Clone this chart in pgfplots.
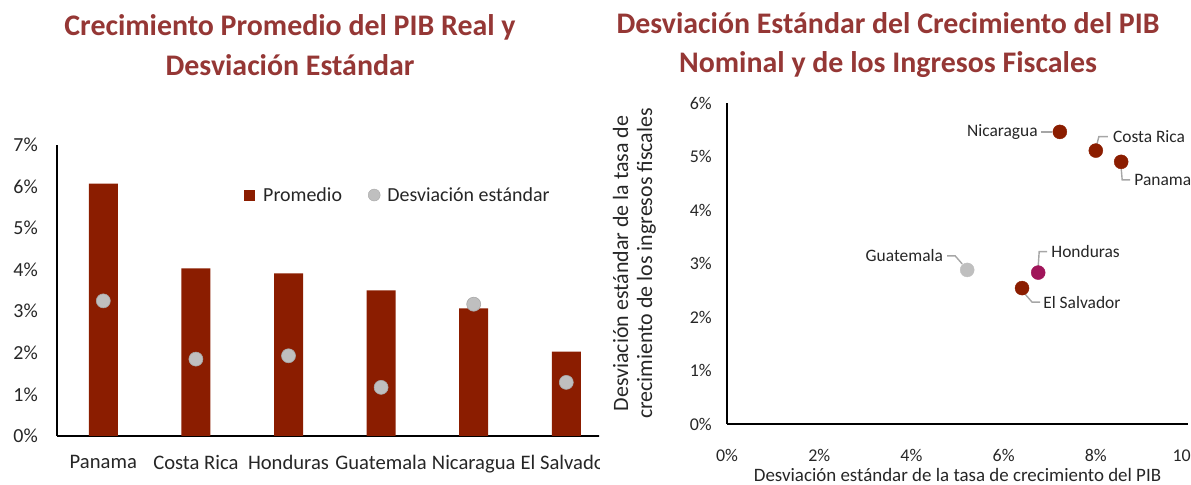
\documentclass[border=0pt]{standalone}
\usepackage{pgfplots}
\pgfplotsset{compat=1.18}
\usepackage{fontspec}
\setmainfont{Carlito}
\definecolor{barred}{HTML}{8B1D00}
\definecolor{titlered}{HTML}{953735}
\definecolor{dotgrey}{HTML}{BFBFBF}
\definecolor{hond}{HTML}{A0155A}
\definecolor{leader}{HTML}{A6A6A6}
\definecolor{txt}{HTML}{262626}
\begin{document}
\begin{tikzpicture}[x=1bp,y=1bp]
\useasboundingbox (0,0) rectangle (1191,485);
\clip (0,0) rectangle (1191,485);
% titles
\node[font=\fontsize{30}{40}\selectfont\bfseries, text=titlered, align=center] at (290,440) {Crecimiento Promedio del PIB Real y\\Desviación Estándar};
\node[font=\fontsize{30}{40}\selectfont\bfseries, text=titlered, align=center] at (888,440) {Desviación Estándar del Crecimiento del PIB\\Nominal y de los Ingresos Fiscales};
% left chart
\begin{scope}
\clip (0,0) rectangle (599,485);
\begin{axis}[
  at={(57bp,49bp)}, anchor=south west,
  scale only axis, width=555.6bp, height=291bp,
  xmin=-0.5, xmax=5.5, ymin=0, ymax=7,
  axis x line*=bottom, axis y line*=left,
  axis line style={-, black, line width=1.3bp},
  major tick length=0pt,
  xtick={0,1,2,3,4,5},
  xticklabels={Panama, Costa Rica, Honduras, Guatemala, Nicaragua, El Salvador},
  ytick={0,1,...,7},
  yticklabel={\pgfmathprintnumber{\tick}\%},
  /pgf/number format/assume math mode=true,
  ticklabel style={font=\fontsize{20}{24}\selectfont, text=txt, inner sep=0pt},
  yticklabel style={anchor=east, xshift=-19bp},
  xticklabel style={anchor=north, yshift=-19bp, font=\fontsize{20.7}{25}\selectfont},
  clip=false,
  legend columns=2,
  legend style={draw=none, fill=none, inner sep=0pt, at={(0.3366,0.828)}, anchor=west,
    font=\fontsize{20}{24}\selectfont, text=txt, /tikz/every even column/.append style={column sep=24bp}},
]
\addplot[ybar, bar width=29bp, fill=barred, draw=none,
  legend image code/.code={\fill[barred] (0bp,-5.5bp) rectangle (11bp,5.5bp); \path (17bp,0bp);}]
  coordinates {(0,6.07) (1,4.03) (2,3.91) (3,3.50) (4,3.07) (5,2.03)};
\addlegendentry{Promedio}
\addplot[only marks, mark=*, mark size=7bp, mark options={fill=dotgrey, draw=dotgrey!88!black, line width=0.6bp},
  legend image code/.code={\fill[dotgrey, draw=dotgrey!88!black] (6bp,0bp) circle (6bp); \path (17bp,0bp);}]
  coordinates {(0,3.25) (1,1.85) (2,1.93) (3,1.17) (4,3.17) (5,1.29)};
\addlegendentry{Desviación estándar}
\end{axis}
\end{scope}
% right chart
\begin{axis}[
  at={(727bp,61bp)}, anchor=south west,
  scale only axis, width=461bp, height=321bp,
  xmin=0, xmax=10, ymin=0, ymax=6,
  axis x line*=bottom, axis y line*=left,
  axis line style={-, black, line width=1.3bp},
  major tick length=0pt,
  xtick={0,2,...,10}, ytick={0,1,...,6},
  xticklabel={\pgfmathprintnumber{\tick}\%},
  yticklabel={\pgfmathprintnumber{\tick}\%},
  /pgf/number format/assume math mode=true,
  ticklabel style={font=\fontsize{18}{22}\selectfont, text=txt, inner sep=0pt},
  yticklabel style={anchor=east, xshift=-15bp},
  xticklabel style={anchor=north, yshift=-25bp},
  xlabel={Desviación estándar de la tasa de crecimiento del PIB},
  ylabel={Desviación estándar de la tasa de\\crecimiento de los ingresos fiscales},
  label style={text=txt, inner sep=0pt},
  xlabel style={font=\fontsize{19}{24}\selectfont, at={(axis description cs:0.5,0)}, anchor=north, yshift=-44bp},
  ylabel style={font=\fontsize{22}{24}\selectfont, at={(axis description cs:-0.154,0.5)}, anchor=south, align=center},
  clip=false,
]
\draw[leader, line width=1.4bp] (axis cs:7.22,5.46) ++(-19bp,0bp) -- ++(11bp,0bp);
\draw[leader, line width=1.4bp] (axis cs:8.0,5.11) ++(1bp,6bp) -- ++(2bp,8bp) -- ++(9bp,0bp);
\draw[leader, line width=1.4bp] (axis cs:8.55,4.90) ++(0bp,-6bp) -- ++(1bp,-12bp) -- ++(8bp,0bp);
\draw[leader, line width=1.4bp] (axis cs:5.21,2.88) ++(-5bp,6bp) -- ++(-7bp,8bp) -- ++(-8bp,0bp);
\draw[leader, line width=1.4bp] (axis cs:6.75,2.83) ++(0bp,6bp) -- ++(1bp,15bp) -- ++(8bp,0bp);
\draw[leader, line width=1.4bp] (axis cs:6.40,2.54) ++(3bp,-6bp) -- ++(7bp,-8bp) -- ++(8bp,0bp);
\addplot[only marks, mark=*, mark size=7bp, mark options={fill=barred, draw=barred}]
  coordinates {(7.22,5.46) (8.0,5.11) (8.55,4.90) (6.40,2.54)};
\addplot[only marks, mark=*, mark size=7bp, mark options={fill=dotgrey, draw=dotgrey}]
  coordinates {(5.21,2.88)};
\addplot[only marks, mark=*, mark size=7bp, mark options={fill=hond, draw=hond}]
  coordinates {(6.75,2.83)};
\begin{scope}[every node/.style={font=\fontsize{17.5}{21}\selectfont, text=txt, inner sep=0pt}]
\node[anchor=east] at (axis cs:7.22,5.46) [xshift=-22bp] {Nicaragua};
\node[anchor=west] at (axis cs:8.0,5.11) [xshift=17bp, yshift=14bp] {Costa Rica};
\node[anchor=west] at (axis cs:8.55,4.90) [xshift=13bp, yshift=-18bp] {Panama};
\node[anchor=east] at (axis cs:5.21,2.88) [xshift=-24bp, yshift=14bp] {Guatemala};
\node[anchor=west] at (axis cs:6.75,2.83) [xshift=13bp, yshift=21bp] {Honduras};
\node[anchor=west] at (axis cs:6.40,2.54) [xshift=21bp, yshift=-14bp] {El Salvador};
\end{scope}
\end{axis}
\end{tikzpicture}
\end{document}
